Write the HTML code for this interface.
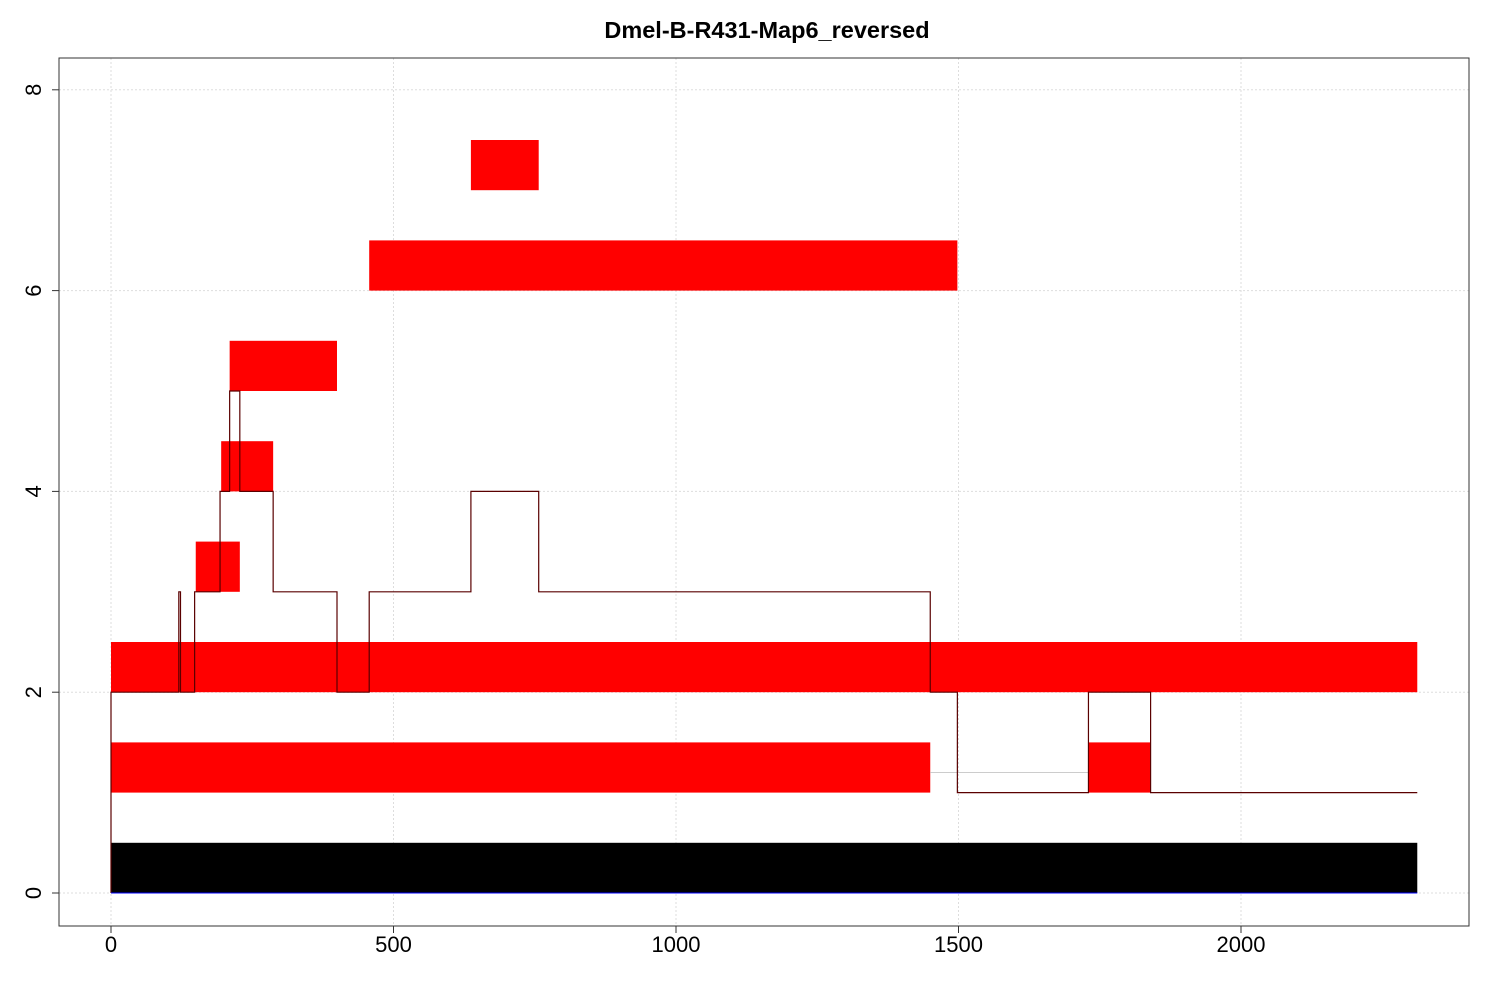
<!DOCTYPE html>
<html><head><meta charset="utf-8"><style>body{margin:0;background:#fff}svg{display:block;font-family:"Liberation Sans",sans-serif}</style></head>
<body>
<svg id="chart" width="1500" height="1000" xmlns="http://www.w3.org/2000/svg">
<text x="767" y="38" text-anchor="middle" font-size="23.5" font-weight="bold">Dmel-B-R431-Map6_reversed</text>
<g id="grid"></g>
<g id="marks"></g>
<rect x="59" y="58" width="1410" height="868" fill="none" stroke="#333" stroke-width="1"/>
<g id="axes"></g>
</svg>
<script>
const xTicks=[0,500,1000,1500,2000];
const yTicks=[0,2,4,6,8];
const blockStart=[0,0,0,1730,150,195,210,457,637];
const blockEnd=[2312,1450,2312,1840,228,287,400,1498,757];
const blockLevel=[0,1,2,1,3,4,5,6,7];
const blockColor=['#000','#f00','#f00','#f00','#f00','#f00','#f00','#f00','#f00'];
const segStart=[0,120,123,148,193,210,228,287,400,457,637,757,1450,1498,1730,1840];
const segEnd=[120,123,148,193,210,228,287,400,457,637,757,1450,1498,1730,1840,2312];
const segValue=[2,3,2,3,4,5,4,3,2,3,4,3,2,1,2,1];
const NS='http://www.w3.org/2000/svg';
const X=v=>111+v*0.565, Y=v=>893-v*100.4;
function mk(t,a,p){const e=document.createElementNS(NS,t);for(const k in a)e.setAttribute(k,a[k]);p.appendChild(e);return e;}
const grid=document.getElementById('grid'),marks=document.getElementById('marks'),axes=document.getElementById('axes');
xTicks.forEach(v=>{const l=mk('line',{x1:X(v),x2:X(v),y1:58,y2:926,stroke:'#ddd','stroke-dasharray':'2,2'},grid);

const t=mk('line',{x1:X(v),x2:X(v),y1:926,y2:933,stroke:'#333'},axes);
const tx=mk('text',{x:X(v),y:952,'text-anchor':'middle','font-size':'22'},axes);tx.textContent=v;
});
yTicks.forEach(v=>{const l=mk('line',{x1:59,x2:1469,y1:Y(v),y2:Y(v),stroke:'#ddd','stroke-dasharray':'2,2'},grid);

const t=mk('line',{x1:52,x2:59,y1:Y(v),y2:Y(v),stroke:'#333'},axes);
const tx=mk('text',{x:0,y:0,'text-anchor':'middle','font-size':'22',transform:`translate(41,${Y(v)}) rotate(-90)`},axes);tx.textContent=v;
});
blockStart.forEach((s,i)=>{const r=mk('rect',{x:X(s),y:Y(blockLevel[i]+0.5),width:X(blockEnd[i])-X(s),height:Y(0)-Y(0.5),fill:blockColor[i]},marks);
});
const g=mk('line',{x1:X(1450),x2:X(1730),y1:Y(1.2),y2:Y(1.2),stroke:'#ccc'},marks);

let d='M'+X(segStart[0])+','+Y(0);
segStart.forEach((s,i)=>{d+='L'+X(s)+','+Y(segValue[i])+'L'+X(segEnd[i])+','+Y(segValue[i]);});
const p=mk('path',{d:d,fill:'none',stroke:'#5a0000','stroke-width':'1.2'},marks);

const b=mk('line',{x1:X(0),x2:X(2312),y1:Y(0),y2:Y(0),stroke:'#00f'},marks);

</script>
</body></html>
